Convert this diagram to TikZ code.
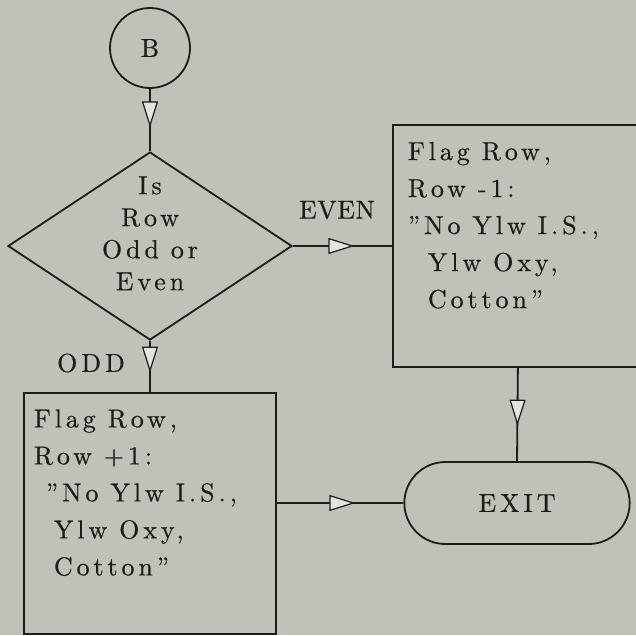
\documentclass[tikz,border=0pt]{standalone}
\usepackage{fontspec}
\setmainfont{lmroman10-regular.otf}[LetterSpace=15,FakeBold=0.5]
\usepackage{tikz}
\usetikzlibrary{arrows.meta,positioning,shapes.geometric,shapes.misc,decorations.markings}
\definecolor{paper}{HTML}{BFC2B7}
\definecolor{ink}{HTML}{1C1C1A}

% wide typewriter gaps between words
\newcommand{\wordgap}{\spaceskip 12pt\relax}
% question text, kept out of the diamond's size
\newcommand{\asklines}[1]{\raisebox{4pt}[0pt][0pt]{\begin{tabular}{@{}c@{}}#1\end{tabular}}}

\begin{document}
\begin{tikzpicture}[
    x=1pt,y=-1pt,
    every node/.style={text=ink,font=\fontsize{26}{37}\selectfont,
                       execute at begin node=\wordgap},
    conn/.style={draw=ink,circle,line width=1.8pt,minimum size=80pt,inner sep=0pt},
    test/.style={draw=ink,diamond,line width=1.8pt,minimum width=284pt,
                 minimum height=188pt,inner sep=0pt,
                 font=\fontsize{26}{32}\selectfont},
    flagbox/.style={draw=ink,rectangle,line width=1.8pt,align=left,
                    inner ysep=0pt,text depth=190pt},
    term/.style={draw=ink,rounded rectangle,line width=1.8pt,
                 minimum width=232pt,minimum height=82pt},
    flow/.style={draw=ink,line width=1.8pt,postaction={decorate},
                 decoration={markings,mark=at position 0.62 with
                   {\arrow{Triangle[length=26pt,width=16pt,fill=paper!45!white,line width=1.2pt]}}}},
  ]
  \path[use as bounding box,fill=paper] (0,0) rectangle (636,635);
  \clip (0,0) rectangle (636,635);

  \node[conn] (b) at (150,48) {B};
  \node[test] (parity) at (150,246) {\asklines{Is\\Row\\Odd or\\Even}};

  \node[flagbox,anchor=west,text width=220pt,inner xsep=15pt,minimum height=242pt]
    (evenflag) at (392,246)
    {Flag Row,\\Row -1:\\"No Ylw I.S.,\\\hspace*{20pt}Ylw Oxy,\\\hspace*{20pt}Cotton"};
  \node[flagbox,anchor=north west,text width=232pt,inner xsep=10pt,minimum height=241pt]
    (oddflag) at (23,392)
    {Flag Row,\\Row +1:\\\hspace*{12pt}"No Ylw I.S.,\\\hspace*{20pt}Ylw Oxy,\\\hspace*{20pt}Cotton"};

  \node[term] (exit) at (517,503) {EXIT};

  \node[font=\fontsize{26}{37}\selectfont\addfontfeature{LetterSpace=2}] (evenlbl) at (337,210) {EVEN};
  \node (oddlbl) at (91,363) {ODD};

  \draw[flow] (b) -- (parity.north);
  \draw[flow] (parity.east) -- (parity.east -| evenflag.west);
  \draw[flow] (parity.south) -- (parity.south |- oddflag.north);
  \draw[flow] (evenflag.south) -- (exit.north);
  \draw[flow] (oddflag.east |- exit.west) -- (exit.west);
\end{tikzpicture}
\end{document}
